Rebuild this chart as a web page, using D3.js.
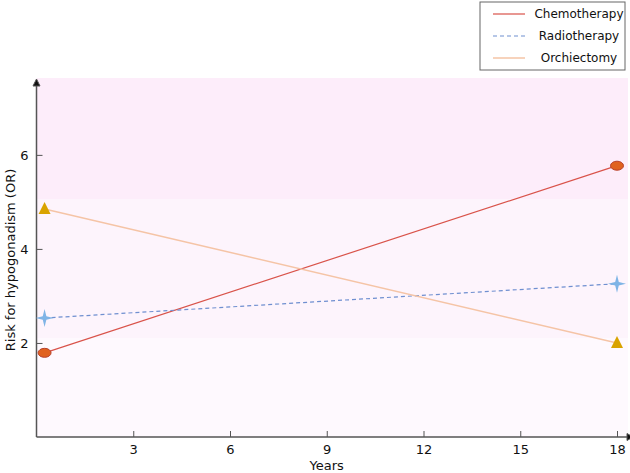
<!DOCTYPE html>
<html>
<head>
    <title>Hypogonadism risk</title>
    <style>
      body { margin: 0; background: #fff; }
      text { font-family: "DejaVu Sans", Verdana, sans-serif; }
      .axis path, .axis line { stroke: #555; }
      .axis text { font-size: 13px; fill: #111; }
    </style>
</head>
<body>
    <script src="https://d3js.org/d3.v7.min.js"></script>
    <script type="text/javascript">
        // ---- data ----
        var years = [0.25, 18];
        var chemotherapy = [1.79, 5.77];
        var radiotherapy = [2.53, 3.26];
        var orchiectomy = [4.85, 2.0];
        var xTicks = [3, 6, 9, 12, 15, 18];
        var yTicks = [2, 4, 6];
        var bands = [[7.55, 5.05], [5.05, 2.1], [2.1, 0]];
        var bandColors = ["#fdedfa", "#fdf4fc", "#fef9fe"];

        var series = [
            { name: "Chemotherapy", values: chemotherapy, color: "#d9534a", dash: null, marker: "ellipse" },
            { name: "Radiotherapy", values: radiotherapy, color: "#6f8fd0", dash: "4,3", marker: "star" },
            { name: "Orchiectomy", values: orchiectomy, color: "#f5c4a6", dash: null, marker: "triangle" }
        ];

        var width = 630, height = 473;
        var svg = d3.select("body").append("svg")
            .attr("width", width)
            .attr("height", height);

        var xScale = d3.scaleLinear().domain([0, 18]).range([36.5, 617]);
        var yScale = d3.scaleLinear().domain([0, 7.55]).range([437, 82]);

        // background bands
        svg.selectAll("rect.band")
            .data(bands)
            .enter()
            .append("rect")
            .attr("class", "band")
            .attr("x", xScale(0))
            .attr("width", 628 - xScale(0))
            .attr("y", function(d, i) { return yScale(d[0]) - (i == 0 ? 4 : 0); })
            .attr("height", function(d, i) { return yScale(d[1]) - yScale(d[0]) + (i == 0 ? 4 : 0); })
            .attr("fill", function(d, i) { return bandColors[i]; });

        // axes
        var xAxis = d3.axisBottom(xScale).tickValues(xTicks).tickSize(-6).tickPadding(8);
        var yAxis = d3.axisLeft(yScale).tickValues(yTicks).tickSize(-6).tickPadding(8);

        var gx = svg.append("g").attr("class", "axis")
            .attr("transform", "translate(0," + yScale(0) + ")")
            .call(xAxis);
        gx.select(".domain").remove();
        gx.append("line").attr("x1", xScale(0)).attr("x2", 627).attr("y1", 0).attr("y2", 0)
            .attr("stroke", "#555").attr("stroke-width", 1.5);
        gx.append("path").attr("d", "M627,-3.5L633,0L627,3.5Z").attr("fill", "#111");

        var gy = svg.append("g").attr("class", "axis")
            .attr("transform", "translate(" + xScale(0) + ",0)")
            .call(yAxis);
        gy.select(".domain").remove();
        gy.append("line").attr("x1", 0).attr("x2", 0).attr("y1", yScale(0)).attr("y2", 84)
            .attr("stroke", "#555").attr("stroke-width", 1.5);
        gy.append("path").attr("d", "M-3.5,86L0,79L3.5,86Z").attr("fill", "#111");

        // axis titles
        svg.append("text")
            .attr("x", xScale(9))
            .attr("y", 470)
            .attr("text-anchor", "middle")
            .attr("font-size", "13px")
            .attr("fill", "#111")
            .text("Years");
        svg.append("text")
            .attr("transform", "translate(15,260) rotate(-90)")
            .attr("text-anchor", "middle")
            .attr("font-size", "13px")
            .attr("fill", "#111")
            .text("Risk for hypogonadism (OR)");

        // lines
        var line = d3.line()
            .x(function(d, i) { return xScale(years[i]); })
            .y(function(d) { return yScale(d); });

        svg.selectAll("path.series")
            .data(series)
            .enter()
            .append("path")
            .attr("class", "series")
            .attr("d", function(d) { return line(d.values); })
            .attr("fill", "none")
            .attr("stroke", function(d) { return d.color; })
            .attr("stroke-width", function(d) { return d.name == "Orchiectomy" ? 1.5 : 1.2; })
            .attr("stroke-dasharray", function(d) { return d.dash; });

        // markers
        series.forEach(function(s) {
            s.values.forEach(function(v, i) {
                var cx = xScale(years[i]), cy = yScale(v);
                if (s.marker == "ellipse") {
                    svg.append("ellipse")
                        .attr("cx", cx).attr("cy", cy)
                        .attr("rx", 6.5).attr("ry", 4.5)
                        .attr("fill", "#e0621f")
                        .attr("stroke", "#b8402a")
                        .attr("stroke-width", 1);
                } else if (s.marker == "star") {
                    var r = 9, w = 1.8;
                    svg.append("path")
                        .attr("d", "M" + cx + "," + (cy - r) + "L" + (cx + w) + "," + (cy - w) + "L" + (cx + r) + "," + cy +
                            "L" + (cx + w) + "," + (cy + w) + "L" + cx + "," + (cy + r) + "L" + (cx - w) + "," + (cy + w) +
                            "L" + (cx - r) + "," + cy + "L" + (cx - w) + "," + (cy - w) + "Z")
                        .attr("fill", "#7fb4e6");
                } else {
                    svg.append("path")
                        .attr("d", "M" + cx + "," + (cy - 7) + "L" + (cx + 6) + "," + (cy + 5) + "L" + (cx - 6) + "," + (cy + 5) + "Z")
                        .attr("fill", "#d9a300");
                }
            });
        });

        // legend
        var legend = svg.append("g").attr("transform", "translate(480,2)");
        legend.append("rect")
            .attr("x", 0).attr("y", 0).attr("width", 145).attr("height", 68)
            .attr("fill", "#fff").attr("stroke", "#666").attr("stroke-width", 1);
        series.forEach(function(s, i) {
            var yy = 12 + i * 22;
            legend.append("line")
                .attr("x1", 13).attr("x2", 45).attr("y1", yy).attr("y2", yy)
                .attr("stroke", s.color)
                .attr("stroke-width", s.name == "Orchiectomy" ? 1.5 : 1.2)
                .attr("stroke-dasharray", s.dash);
            legend.append("text")
                .attr("x", 99).attr("y", yy + 4)
                .attr("text-anchor", "middle")
                .attr("font-size", "12px")
                .attr("fill", "#111")
                .text(s.name);
        });
    </script>
</body>
</html>
